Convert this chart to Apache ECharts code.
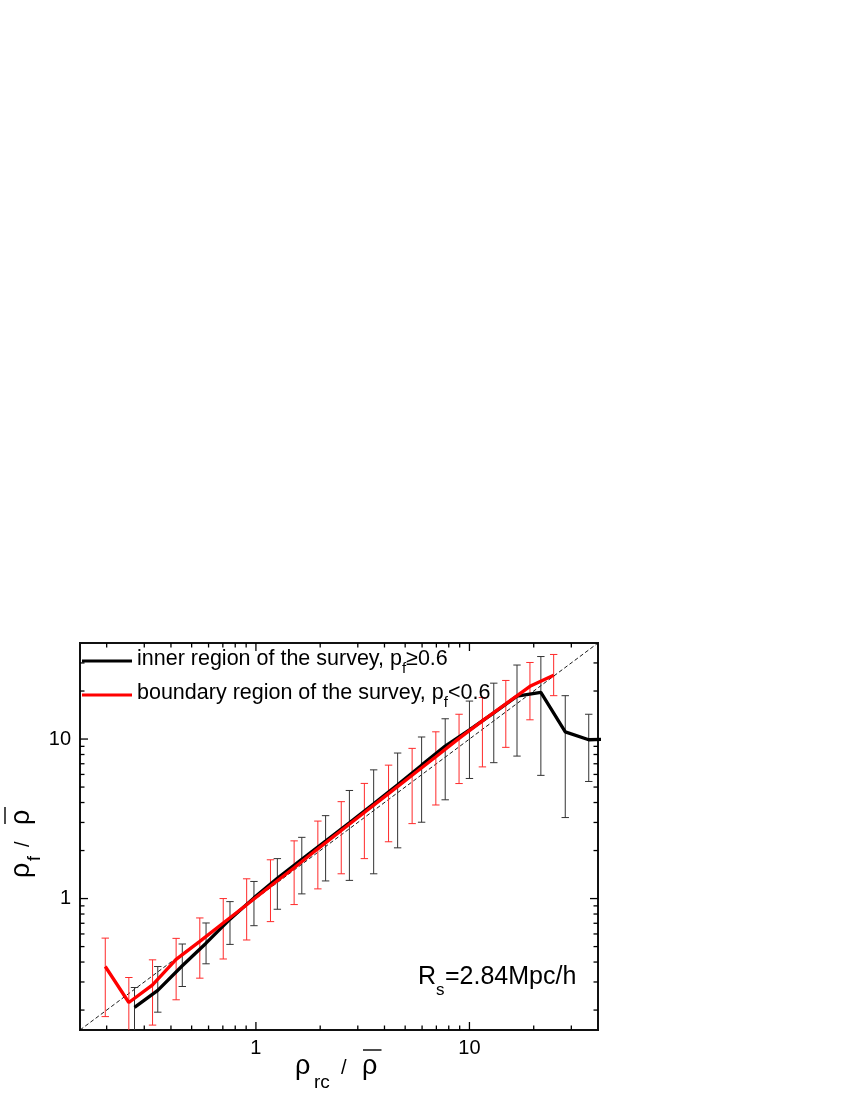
<!DOCTYPE html>
<html>
<head>
<meta charset="utf-8">
<script src="https://cdn.jsdelivr.net/npm/echarts@6/dist/echarts.min.js"></script>
<style>
  html, body { margin: 0; padding: 0; background: #fff; }
  #chart { width: 850px; height: 1100px; }
</style>
</head>
<body>
<div id="chart"></div>
<script>
  // boundary region, p_f < 0.6 (red)
  var redX = [0.197, 0.254, 0.328, 0.423, 0.546, 0.703, 0.905, 1.17, 1.51, 1.95, 2.51, 3.22, 4.18, 5.39, 6.96, 8.94, 11.5, 14.8, 19.2, 24.8];
  var redY = [0.375, 0.223, 0.288, 0.416, 0.539, 0.703, 0.915, 1.20, 1.56, 2.05, 2.67, 3.46, 4.55, 5.93, 7.75, 10.1, 13.0, 16.6, 21.4, 25.1];
  var redLow = [0.182, 0.13, 0.161, 0.232, 0.317, 0.418, 0.550, 0.717, 0.917, 1.15, 1.43, 1.78, 2.27, 2.95, 3.86, 5.26, 6.69, 8.87, 13.2, 18.7];
  var redHigh = [0.565, 0.320, 0.413, 0.563, 0.756, 1.00, 1.33, 1.75, 2.30, 3.06, 4.05, 5.27, 6.86, 8.74, 11.1, 14.3, 18.2, 23.3, 30.2, 33.9];

  // inner region, p_f >= 0.6 (black)
  var blackX = [0.270, 0.347, 0.452, 0.584, 0.756, 0.979, 1.26, 1.64, 2.12, 2.74, 3.56, 4.61, 5.97, 7.70, 10.0, 13.0, 16.7, 21.6, 28.1, 36.2, 46.6];
  var blackY = [0.208, 0.266, 0.379, 0.525, 0.743, 1.01, 1.34, 1.76, 2.29, 2.99, 3.93, 5.17, 6.86, 9.03, 11.4, 14.6, 18.6, 19.6, 11.1, 9.9, 10.0];
  var blackLow = [0.12, 0.194, 0.281, 0.390, 0.516, 0.676, 0.857, 1.07, 1.29, 1.30, 1.43, 2.08, 3.01, 4.16, 5.66, 7.11, 7.82, 5.92, 3.22, 5.42, null];
  var blackHigh = [0.277, 0.375, 0.519, 0.703, 0.957, 1.28, 1.78, 2.42, 3.31, 4.76, 6.41, 8.17, 10.3, 13.4, 17.3, 22.4, 29.1, 32.9, 18.7, 14.3, null];

  // y = x reference
  var diagX = [0.15, 40];
  var diagY = [0.15, 40];

  var majorTicks = [1, 10];
  var minorTicks = [0.2, 0.3, 0.4, 0.5, 0.6, 0.7, 0.8, 0.9, 2, 3, 4, 5, 6, 7, 8, 9, 20, 30];

  var seriesNames = ['inner', 'boundary'];
  var legendLabels = {
    inner: '{a|inner region of the survey, p}{s|f}{a|\u22650.6}',
    boundary: '{a|boundary region of the survey, p}{s|f}{a|<0.6}'
  };

  var FONT = '"Liberation Sans", Arial, sans-serif';

  function pairs(xs, ys) {
    return xs.map(function (x, i) { return [x, ys[i]]; });
  }

  function errData(xs, lo, hi) {
    var out = [];
    xs.forEach(function (x, i) {
      if (lo[i] != null && hi[i] != null) out.push([x, lo[i], hi[i]]);
    });
    return out;
  }

  function errorBars(color) {
    return function (params, api) {
      var top = api.coord([api.value(0), api.value(2)]);
      var bot = api.coord([api.value(0), api.value(1)]);
      var w = 3.7;
      var st = { stroke: color, lineWidth: 1 };
      return {
        type: 'group',
        children: [
          { type: 'line', shape: { x1: top[0], y1: top[1], x2: bot[0], y2: bot[1] }, style: st },
          { type: 'line', shape: { x1: top[0] - w, y1: top[1], x2: top[0] + w, y2: top[1] }, style: st },
          { type: 'line', shape: { x1: bot[0] - w, y1: bot[1], x2: bot[0] + w, y2: bot[1] }, style: st }
        ]
      };
    };
  }

  // ticks inside the frame, on all four sides
  function tickSeries(values, dir, len) {
    return {
      type: 'custom',
      silent: true,
      z: 5,
      data: values.map(function (v) { return dir === 'x' ? [v, 1] : [1, v]; }),
      renderItem: function (params, api) {
        var cs = params.coordSys;
        var st = { stroke: '#000', lineWidth: 1.3 };
        if (dir === 'x') {
          var px = api.coord([api.value(0), 1])[0];
          return { type: 'group', children: [
            { type: 'line', shape: { x1: px, y1: cs.y + cs.height, x2: px, y2: cs.y + cs.height - len }, style: st },
            { type: 'line', shape: { x1: px, y1: cs.y, x2: px, y2: cs.y + len }, style: st }
          ]};
        }
        var py = api.coord([1, api.value(1)])[1];
        return { type: 'group', children: [
          { type: 'line', shape: { x1: cs.x, y1: py, x2: cs.x + len, y2: py }, style: st },
          { type: 'line', shape: { x1: cs.x + cs.width, y1: py, x2: cs.x + cs.width - len, y2: py }, style: st }
        ]};
      }
    };
  }

  function isMajor(v) {
    return majorTicks.some(function (m) { return Math.abs(v - m) < 1e-6 * m; });
  }

  function txt(text, x, baseline, size) {
    return {
      type: 'text',
      style: { text: text, x: x, y: baseline - 0.31 * size, fontSize: size, fontFamily: FONT, fill: '#000', verticalAlign: 'middle' }
    };
  }

  function bar(x1, x2, y) {
    return { type: 'line', shape: { x1: x1, y1: y, x2: x2, y2: y }, style: { stroke: '#000', lineWidth: 1.4 } };
  }

  var chart = echarts.init(document.getElementById('chart'));

  var option = {
    backgroundColor: '#fff',
    animation: false,
    grid: {
      left: 80, right: 252, top: 643, bottom: 70,
      show: true, borderColor: '#111', borderWidth: 2, backgroundColor: 'transparent'
    },
    legend: {
      left: 82, top: 648, orient: 'vertical', padding: 0, itemGap: 6,
      itemWidth: 50, itemHeight: 3,
      data: seriesNames.map(function (n) { return { name: n, icon: 'rect' }; }),
      formatter: function (name) { return legendLabels[name]; },
      textStyle: {
        color: '#000', fontFamily: FONT,
        rich: {
          a: { fontSize: 21.5, fontFamily: FONT, color: '#000', lineHeight: 26, verticalAlign: 'top' },
          s: { fontSize: 15, fontFamily: FONT, color: '#000', lineHeight: 15, padding: [13, 0, 0, 0], verticalAlign: 'top' }
        }
      }
    },
    xAxis: {
      type: 'log', logBase: 10, min: 0.15, max: 40,
      axisLine: { show: false }, axisTick: { show: false }, splitLine: { show: false },
      axisLabel: {
        color: '#000', fontSize: 20, fontFamily: FONT, margin: 8,
        formatter: function (v) { return isMajor(v) ? String(Math.round(v)) : ''; }
      }
    },
    yAxis: {
      type: 'log', logBase: 10, min: 0.15, max: 40,
      axisLine: { show: false }, axisTick: { show: false }, splitLine: { show: false },
      axisLabel: {
        color: '#000', fontSize: 20, fontFamily: FONT, margin: 9,
        formatter: function (v) { return isMajor(v) ? String(Math.round(v)) : ''; }
      }
    },
    graphic: [
      { type: 'group', x: 295, y: 1075, children: [
        txt('\u03c1', 0, 0, 27), txt('rc', 19, 14, 19), txt('/', 46, 0, 20), txt('\u03c1', 67, 0, 27), bar(68, 86.5, -25)
      ]},
      { type: 'group', x: 30, y: 878, rotation: Math.PI / 2, children: [
        txt('\u03c1', 0, 0, 27), txt('f', 17, 11, 18), txt('/', 31, 0, 20), txt('\u03c1', 53, 0, 27), bar(54, 71, -25)
      ]},
      { type: 'group', x: 418, y: 985, children: [
        txt('R', 0, 0, 25), txt('s', 18, 11, 17), txt('=2.84Mpc/h', 27, 0, 25)
      ]}
    ],
    series: [
      tickSeries(majorTicks, 'x', 8),
      tickSeries(minorTicks, 'x', 4.5),
      tickSeries(majorTicks, 'y', 8),
      tickSeries(minorTicks, 'y', 4.5),
      {
        type: 'line', silent: true, z: 1,
        data: pairs(diagX, diagY),
        symbol: 'none',
        lineStyle: { color: '#000', width: 0.9, type: [4, 2.5] }
      },
      {
        type: 'custom', silent: true, clip: true, z: 2,
        data: errData(blackX, blackLow, blackHigh),
        renderItem: errorBars('#333')
      },
      {
        type: 'custom', silent: true, clip: true, z: 2,
        data: errData(redX, redLow, redHigh),
        renderItem: errorBars('#ff2a2a')
      },
      {
        name: 'inner', type: 'line', z: 3,
        data: pairs(blackX, blackY),
        symbol: 'none', showSymbol: false,
        itemStyle: { color: '#000' },
        lineStyle: { color: '#000', width: 3.3 }
      },
      {
        name: 'boundary', type: 'line', z: 4,
        data: pairs(redX, redY),
        symbol: 'none', showSymbol: false,
        itemStyle: { color: '#ff0000' },
        lineStyle: { color: '#ff0000', width: 3.3 }
      }
    ]
  };

  chart.setOption(option);
</script>
</body>
</html>
